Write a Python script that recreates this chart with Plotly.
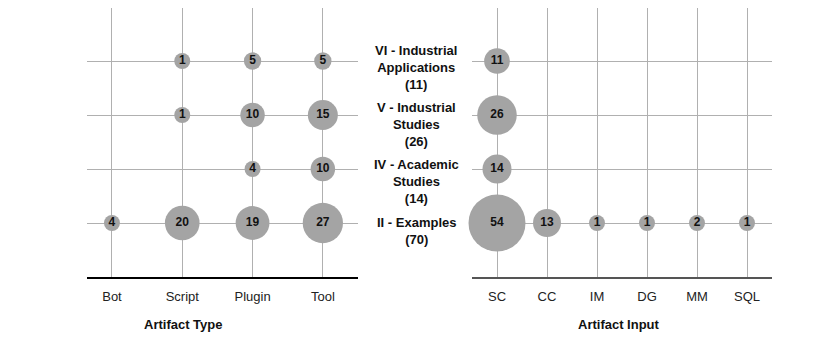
import plotly.graph_objects as go
import math

# ---- data ----
facets = ["II - Examples", "IV - Academic Studies", "V - Industrial Studies", "VI - Industrial Applications"]
facet_labels = ["II - Examples<br>(70)", "IV - Academic<br>Studies<br>(14)",
                "V - Industrial<br>Studies<br>(26)", "VI - Industrial<br>Applications<br>(11)"]

type_cats = ["Bot", "Script", "Plugin", "Tool"]
type_facet = ["VI - Industrial Applications"] * 3 + ["V - Industrial Studies"] * 3 + \
             ["IV - Academic Studies"] * 2 + ["II - Examples"] * 4
type_x = ["Script", "Plugin", "Tool", "Script", "Plugin", "Tool", "Plugin", "Tool",
          "Bot", "Script", "Plugin", "Tool"]
type_vals = [1, 5, 5, 1, 10, 15, 4, 10, 4, 20, 19, 27]

input_cats = ["SC", "CC", "IM", "DG", "MM", "SQL"]
input_facet = ["VI - Industrial Applications", "V - Industrial Studies", "IV - Academic Studies"] + \
              ["II - Examples"] * 6
input_x = ["SC", "SC", "SC", "SC", "CC", "IM", "DG", "MM", "SQL"]
input_vals = [11, 26, 14, 54, 13, 1, 1, 2, 1]

# ---- style ----
OFF = 8  # page body margin
W, H = 831 - 2 * OFF, 344 - 2 * OFF
FONT = "Liberation Sans, Arial, sans-serif"
BUBBLE = "#a4a4a4"
GRID = "#b0b0b0"
MAXD, MAXV, MIND = 57.0, 54.0, 16.0


def diam(v):
    return max(MIND, MAXD * math.sqrt(v / MAXV))


def px_x(p):
    return min(1.0, max(0.0, (p - OFF) / W))


def px_y(p):
    return min(1.0, max(0.0, (H - (p - OFF)) / H))


def yidx(f):
    return facets.index(f) + 1


fig = go.Figure()

fig.add_trace(go.Scatter(
    x=[type_cats.index(c) for c in type_x], y=[yidx(f) for f in type_facet],
    mode="markers+text", text=[str(v) for v in type_vals],
    textposition="middle center",
    textfont=dict(family=FONT, size=12, color="#111", weight="bold"),
    marker=dict(size=[diam(v) for v in type_vals], sizemode="diameter",
                color=BUBBLE, line=dict(width=0), opacity=1),
    xaxis="x", yaxis="y", showlegend=False, hoverinfo="skip", cliponaxis=False))

fig.add_trace(go.Scatter(
    x=[input_cats.index(c) for c in input_x], y=[yidx(f) for f in input_facet],
    mode="markers+text", text=[str(v) for v in input_vals],
    textposition="middle center",
    textfont=dict(family=FONT, size=12, color="#111", weight="bold"),
    marker=dict(size=[diam(v) for v in input_vals], sizemode="diameter",
                color=BUBBLE, line=dict(width=0), opacity=1),
    xaxis="x2", yaxis="y2", showlegend=False, hoverinfo="skip", cliponaxis=False))

# plot top slightly above the page offset; keep row spacing by extending range
top_px, bot_px = 8, 277
ydom = [px_y(bot_px), px_y(top_px)]
row_unit = (277 - 7) / 5.0
ytop = (277 - top_px) / row_unit
common_x = dict(showgrid=True, gridcolor=GRID, gridwidth=1, zeroline=False,
                showline=True, linewidth=2, ticks="outside", ticklen=6,
                tickcolor="rgba(0,0,0,0)", tickfont=dict(family=FONT, size=13, color="#222"))
common_y = dict(range=[0, ytop], tickvals=[1, 2, 3, 4], showticklabels=False,
                showgrid=True, gridcolor=GRID, gridwidth=1, zeroline=False, showline=False,
                domain=ydom)

fig.update_layout(
    width=W, height=H, margin=dict(l=0, r=0, t=0, b=0),
    plot_bgcolor="white", paper_bgcolor="white",
    xaxis=dict(domain=[px_x(87), px_x(358)], range=[-0.355, 3.5],
               tickvals=list(range(len(type_cats))), ticktext=type_cats,
               linecolor="#000", anchor="y", **common_x),
    yaxis=dict(anchor="x", **common_y),
    xaxis2=dict(domain=[px_x(472), px_x(772)], range=[-0.5, 5.5],
                tickvals=list(range(len(input_cats))), ticktext=input_cats,
                linecolor="#555", anchor="y2", **common_x),
    yaxis2=dict(anchor="x2", **common_y),
)

# facet labels in the middle
label_tops = [213, 155, 98, 41]  # page-pixel tops of label blocks
anns = []
for lab, top in zip(facet_labels, label_tops):
    anns.append(dict(text=lab, x=px_x(416), xref="paper", y=px_y(top), yref="paper",
                     xanchor="center", yanchor="top", showarrow=False, align="center",
                     font=dict(family=FONT, size=13, color="#111", weight="bold")))
anns.append(dict(text="Artifact Type", x=px_x(183), xref="paper", y=px_y(324), yref="paper",
                 xanchor="center", yanchor="middle", showarrow=False,
                 font=dict(family=FONT, size=13, color="#111", weight="bold")))
anns.append(dict(text="Artifact Input", x=px_x(619), xref="paper", y=px_y(324), yref="paper",
                 xanchor="center", yanchor="middle", showarrow=False,
                 font=dict(family=FONT, size=13, color="#111", weight="bold")))
fig.update_layout(annotations=anns)

fig.write_html("out.html")
